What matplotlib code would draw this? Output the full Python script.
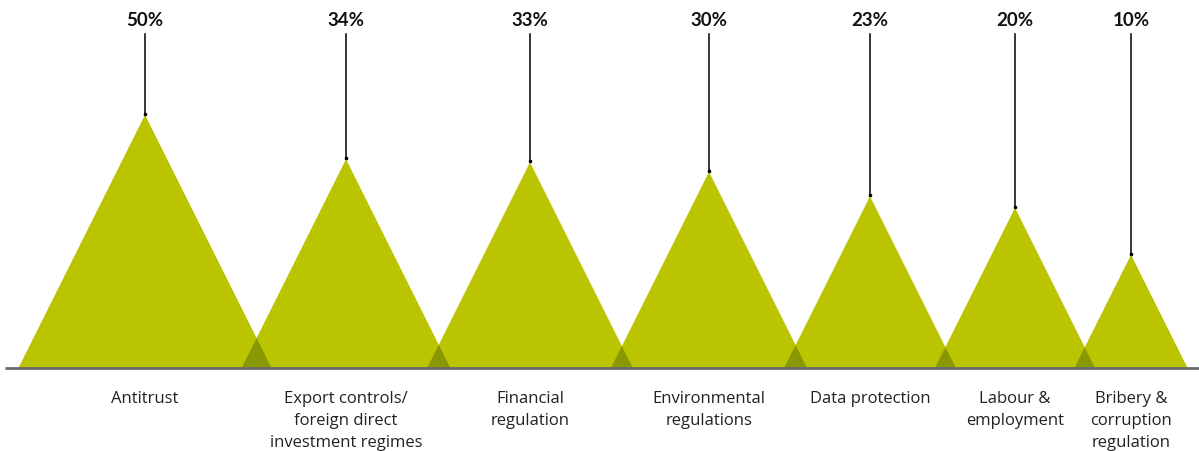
import numpy as np
import matplotlib
matplotlib.use("Agg")
import matplotlib.pyplot as plt

# Share of respondents naming each regulatory area
categories = [
    "Antitrust",
    "Export controls/\nforeign direct\ninvestment regimes",
    "Financial\nregulation",
    "Environmental\nregulations",
    "Data protection",
    "Labour &\nemployment",
    "Bribery &\ncorruption\nregulation",
]
values = [50, 34, 33, 30, 23, 20, 10]
value_labels = ["50%", "34%", "33%", "30%", "23%", "20%", "10%"]

# Layout (pixel space of the canvas)
W, H = 1199, 452
centers = [145, 346, 530, 709, 870, 1015, 1131]
base_y = 369
scale = 35.8          # apex height per sqrt(percent)
half_ratio = 0.5      # half base width / height

fill = np.array([187, 196, 0]) / 255
overlap = fill * fill  # multiplied tone where triangles meet

plt.rcParams["font.family"] = ["Open Sans", "DejaVu Sans"]

fig = plt.figure(figsize=(W / 100, H / 100), dpi=100)
ax = fig.add_axes([0, 0, 1, 1])
ax.set_xlim(0, W)
ax.set_ylim(H, 0)
ax.axis("off")

tris = []
for cx, v in zip(centers, values):
    h = scale * np.sqrt(v)
    hw = h * half_ratio
    tris.append((cx - hw, cx, cx + hw, base_y - h))
    ax.fill([cx - hw, cx, cx + hw], [base_y, base_y - h, base_y],
            color=fill, lw=0, zorder=2)

# Darker patch where neighbouring triangles overlap
for (l1, c1, r1, t1), (l2, c2, r2, t2) in zip(tris[:-1], tris[1:]):
    if r1 <= l2:
        continue
    s1 = (base_y - t1) / (r1 - c1)
    s2 = (base_y - t2) / (c2 - l2)
    # heights: h1(x) = s1*(r1-x), h2(x) = s2*(x-l2); equal at x0
    x0 = (s1 * r1 + s2 * l2) / (s1 + s2)
    y0 = base_y - s1 * (r1 - x0)
    ax.fill([l2, x0, r1], [base_y, y0, base_y], color=overlap, lw=0, zorder=3)

ax.plot([5, W], [base_y, base_y], color="#6b6b6b", lw=2, zorder=4,
        solid_capstyle="butt")

for (l, cx, r, top), lab in zip(tris, value_labels):
    ax.plot([cx, cx], [35, top - 0.5], color="black", lw=1.1, zorder=5)
    ax.plot([cx], [top - 1], marker="o", ms=1.6, color="black", zorder=6)
    ax.text(cx, 20, lab, ha="center", va="center", fontsize=13.5,
            fontweight="bold", color="#111111",
            family=["Lato", "DejaVu Sans"])

for cx, name in zip(centers, categories):
    ax.text(cx, 391, name, ha="center", va="top", fontsize=12,
            color="#222222", linespacing=1.5)

fig.savefig("out.png", dpi=100)
